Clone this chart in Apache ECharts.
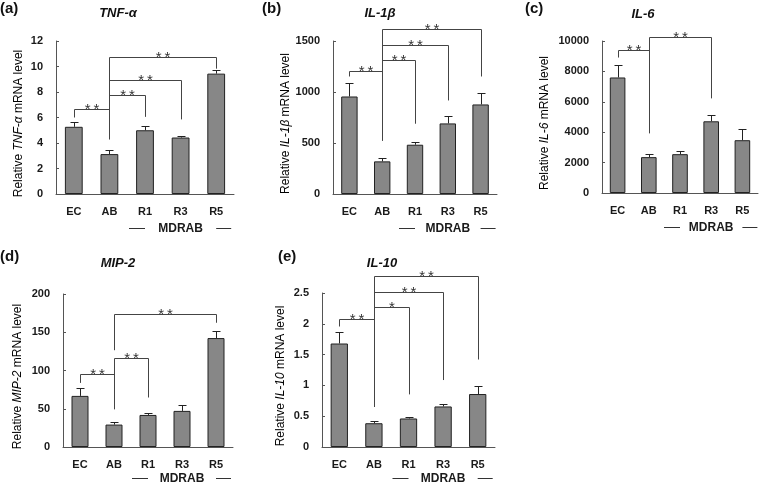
<!DOCTYPE html>
<html><head><meta charset="utf-8">
<script src="https://cdn.jsdelivr.net/npm/echarts@6/dist/echarts.min.js"></script>
<style>html,body{margin:0;padding:0;background:#fff}#c{width:759px;height:483px}</style>
</head><body><div id="c"></div>
<script>
// ---------- data ----------
const categories = ['EC', 'AB', 'R1', 'R3', 'R5'];
const groupLabel = 'MDRAB';
const groupSpan = [[2, 4]];           // categories R1..R5 belong to MDRAB

const tnfMean = [5.27, 3.13, 5.0, 4.43, 9.44];
const tnfErr  = [0.39, 0.31, 0.35, 0.11, 0.29];
// [fromCat, toCat, bracketTop, fromLegBottom, toLegBottom]
const tnfBrackets = [[0, 1, 6.67, 6.0, 4.3], [1, 2, 7.75, 4.3, 6.05], [1, 3, 8.92, 4.3, 5.85], [1, 4, 10.74, 4.3, 9.83]];
const tnfStars = ['**', '**', '**', '**'];
const tnfTicks = [0, 12, 2];

const il1bMean = [956, 320, 483, 692, 878];
const il1bErr  = [130, 36, 26, 75, 110];
const il1bBrackets = [[0, 1, 1203, 1152, 525], [1, 2, 1315, 525, 689], [1, 3, 1465, 525, 917], [1, 4, 1618, 525, 1152]];
const il1bStars = ['**', '**', '**', '**'];
const il1bTicks = [0, 1500, 500];

const il6Mean = [7600, 2360, 2555, 4718, 3473];
const il6Err  = [807, 236, 237, 413, 760];
const il6Brackets = [[0, 1, 9391, 8912, 3932], [1, 3, 10262, 3932, 6225]];
const il6Stars = ['**', '**'];
const il6Ticks = [0, 10000, 2000];

const mip2Mean = [66.8, 29.3, 41.9, 47.2, 142.4];
const mip2Err  = [10.1, 3.4, 2.6, 8.3, 9.5];
const mip2Brackets = [[0, 1, 94.8, 83.8, 49.4], [1, 2, 115.8, 49.4, 64.7], [1, 4, 173.8, 126.5, 162.4]];
const mip2Stars = ['**', '**', '**'];
const mip2Ticks = [0, 200, 50];

const il10Mean = [1.68, 0.386, 0.463, 0.658, 0.86];
const il10Err  = [0.18, 0.034, 0.032, 0.032, 0.13];
const il10Brackets = [[0, 1, 2.08, 1.956, 0.65], [1, 2, 2.27, 0.65, 0.854], [1, 3, 2.51, 0.65, 1.087], [1, 4, 2.77, 0.65, 1.42]];
const il10Stars = ['**', '*', '**', '**'];
const il10Ticks = [0, 2.5, 0.5];

// ---------- layout / style ----------
const FONT = '"Liberation Sans", Arial, sans-serif';
const BAR = '#878787', EDGE = '#222', AXIS = '#555', TXT = '#1a1a1a';

const panels = [
  {tag: '(a)', gene: 'TNF-α', mean: tnfMean, err: tnfErr, br: tnfBrackets, stars: tnfStars, ticks: tnfTicks,
   grid: {left: 56, top: 41, width: 178, height: 153}, nameGap: 31, tagPos: [0, 1], genePos: [118, 7], md: 35},
  {tag: '(b)', gene: 'IL-1β', mean: il1bMean, err: il1bErr, br: il1bBrackets, stars: il1bStars, ticks: il1bTicks,
   grid: {left: 333, top: 41, width: 164, height: 153}, nameGap: 41, tagPos: [262, 1], genePos: [380, 7], md: 35},
  {tag: '(c)', gene: 'IL-6', mean: il6Mean, err: il6Err, br: il6Brackets, stars: il6Stars, ticks: il6Ticks,
   grid: {left: 602, top: 41, width: 156, height: 152}, nameGap: 51, tagPos: [525, 1], genePos: [643, 8], md: 35},
  {tag: '(d)', gene: 'MIP-2', mean: mip2Mean, err: mip2Err, br: mip2Brackets, stars: mip2Stars, ticks: mip2Ticks,
   grid: {left: 63, top: 294, width: 170, height: 153}, nameGap: 39, tagPos: [0, 249], genePos: [118, 257], md: 32},
  {tag: '(e)', gene: 'IL-10', mean: il10Mean, err: il10Err, br: il10Brackets, stars: il10Stars, ticks: il10Ticks,
   grid: {left: 322, top: 293, width: 173, height: 154}, nameGap: 35, tagPos: [278, 249], genePos: [382, 257], md: 32}
];

const crisp = v => Math.round(v) + 0.5;

function errItem(params, api) {
  const i = api.value(0), m = api.value(1), e = api.value(2);
  const p0 = api.coord([i, m]), p1 = api.coord([i, m + e]);
  const x = crisp(p0[0]), y1 = crisp(p1[1]);
  return {type: 'group', children: [
    {type: 'line', shape: {x1: x, y1: p0[1], x2: x, y2: y1}, style: {stroke: EDGE, lineWidth: 1}},
    {type: 'line', shape: {x1: x - 4, y1: y1, x2: x + 4, y2: y1}, style: {stroke: EDGE, lineWidth: 1}}
  ]};
}

function makeBracket(stars) {
  return function (params, api) {
    const a = api.value(0), b = api.value(1), top = api.value(2), ba = api.value(3), bb = api.value(4);
    const pa = api.coord([a, top]), pb = api.coord([b, top]);
    const qa = api.coord([a, ba]), qb = api.coord([b, bb]);
    const xa = crisp(pa[0]), xb = crisp(pb[0]), yt = crisp(pa[1]);
    return {type: 'group', children: [
      {type: 'polyline', shape: {points: [[xa, qa[1]], [xa, yt], [xb, yt], [xb, qb[1]]]},
       style: {stroke: '#444', lineWidth: 1, fill: null}},
      {type: 'text', x: (xa + xb) / 2, y: yt,
       style: {text: stars[params.dataIndex].split('').join('\u2009'), fill: '#333', font: '15px ' + FONT,
               align: 'center', verticalAlign: 'middle'}}
    ]};
  };
}

function makeGroup(offset) {
  return function (params, api) {
    const pl = api.coord([api.value(0), 0]), pr = api.coord([api.value(1), 0]);
    const y = pl[1] + offset;
    const yl = crisp(y - 1);
    return {type: 'group', children: [
      {type: 'line', shape: {x1: pl[0] - 16, y1: yl, x2: pl[0], y2: yl}, style: {stroke: '#333', lineWidth: 1}},
      {type: 'line', shape: {x1: pr[0], y1: yl, x2: pr[0] + 15, y2: yl}, style: {stroke: '#333', lineWidth: 1}},
      {type: 'text', x: (pl[0] + pr[0]) / 2, y: y,
       style: {text: groupLabel, fill: TXT, font: 'bold 12px ' + FONT, align: 'center', verticalAlign: 'middle'}}
    ]};
  };
}

const option = {animation: false, backgroundColor: '#fff', title: [], grid: [], xAxis: [], yAxis: [], series: []};

panels.forEach((p, k) => {
  option.title.push({text: p.tag, left: p.tagPos[0], top: p.tagPos[1], padding: 0,
    textStyle: {fontFamily: FONT, fontSize: 15, fontWeight: 'bold', color: '#111'}});
  option.title.push({text: p.gene, left: p.genePos[0], top: p.genePos[1], textAlign: 'center', padding: 0,
    textStyle: {fontFamily: FONT, fontSize: 13, fontWeight: 'bold', fontStyle: 'italic', color: '#111'}});
  option.grid.push(Object.assign({containLabel: false}, p.grid));
  option.xAxis.push({type: 'category', gridIndex: k, data: categories,
    axisLine: {lineStyle: {color: AXIS, width: 1}},
    axisTick: {inside: true, length: 3, lineStyle: {color: AXIS}},
    axisLabel: {margin: 12, fontFamily: FONT, fontSize: 11, fontWeight: 'bold', color: TXT}});
  option.yAxis.push({type: 'value', gridIndex: k, min: p.ticks[0], max: p.ticks[1], interval: p.ticks[2],
    name: 'Relative {i|' + p.gene + '} mRNA level', nameLocation: 'middle', nameGap: p.nameGap,
    nameTextStyle: {fontFamily: FONT, fontSize: 12, color: '#000', padding: [0, 12, 0, 0],
      rich: {i: {fontFamily: FONT, fontSize: 12, fontStyle: 'italic', color: '#000'}}},
    splitLine: {show: false},
    axisLine: {show: true, lineStyle: {color: AXIS, width: 1}},
    axisTick: {show: true, inside: true, length: 3, lineStyle: {color: AXIS}},
    axisLabel: {margin: 13, fontFamily: FONT, fontSize: 11, fontWeight: 'bold', color: TXT,
      formatter: v => String(v)}});
  option.series.push({type: 'bar', xAxisIndex: k, yAxisIndex: k, data: p.mean, barWidth: '50%',
    itemStyle: {color: BAR, borderColor: EDGE, borderWidth: 1}});
  option.series.push({type: 'custom', xAxisIndex: k, yAxisIndex: k, renderItem: errItem,
    encode: {x: 0, y: 1}, data: p.mean.map((m, i) => [i, m, p.err[i]]), z: 3});
  option.series.push({type: 'custom', xAxisIndex: k, yAxisIndex: k, renderItem: makeBracket(p.stars),
    encode: {x: 0, y: 2}, data: p.br, z: 3, clip: false});
  option.series.push({type: 'custom', xAxisIndex: k, yAxisIndex: k, renderItem: makeGroup(p.md),
    encode: {x: 0}, data: groupSpan, z: 3, clip: false});
});

const chart = echarts.init(document.getElementById('c'), null, {renderer: 'canvas'});
chart.setOption(option);
</script>
</body></html>
